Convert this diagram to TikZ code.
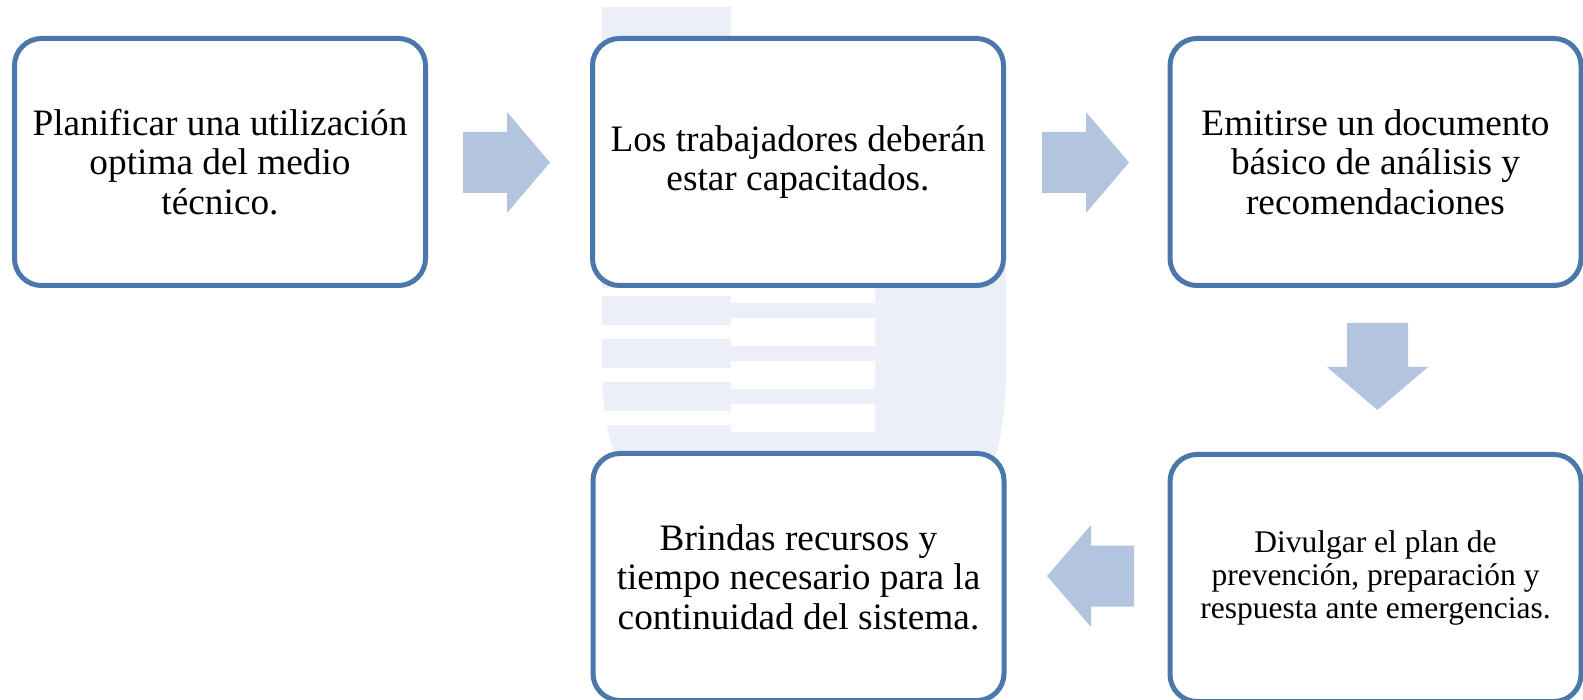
\documentclass[tikz,border=0pt]{standalone}
\usepackage{fontspec}
\setmainfont{Liberation Serif}
\definecolor{boxblue}{RGB}{74,119,172}
\definecolor{arrowblue}{RGB}{179,196,223}
\definecolor{wmblue}{RGB}{236,239,247}
\begin{document}
\begin{tikzpicture}[x=1pt,y=-1pt,
  box/.style={draw=boxblue, line width=5pt, rounded corners=27pt, fill=white,
    minimum width=411pt, minimum height=247pt, inner sep=0pt, align=center,
    font=\fontsize{37.3}{39.5}\selectfont},
  smallbox/.style={box, font=\fontsize{31.5}{33}\selectfont},
  flowarrow/.style={fill=arrowblue, draw=none},
  wmark/.style={fill=wmblue, draw=none},
  wgap/.style={fill=white, draw=none}]
\useasboundingbox (0,0) rectangle (1583,700);
% watermark
\fill[wmark] (602,7) -- (731,7) -- (731,120) -- (1006,120) -- (1006,370)
  .. controls (1006,415) and (1000,445) .. (990,475) -- (622,475)
  .. controls (610,445) and (602,415) .. (602,370) -- cycle;
\foreach \a/\b in {288/296, 325/339, 367.7/382.3, 410.7/425.3}
  \fill[wgap] (598,\a) rectangle (731,\b);
\foreach \a/\b in {110/302.7, 317.7/346, 360.7/389.3, 404/432.3}
  \fill[wgap] (731,\a) rectangle (875,\b);
% boxes
\node[box] (b1) at (220,162) {Planificar una utilización\\optima del medio\\técnico.};
\node[box] (b2) at (798,162) {Los trabajadores deberán\\estar capacitados.};
\node[box] (b3) at (1375.5,162) {Emitirse un documento\\básico de análisis y\\recomendaciones};
\node[smallbox] (b5) at (1375.5,578) {Divulgar el plan de\\prevención, preparación y\\respuesta ante emergencias.};
\node[box] (b4) at (798.5,577) {Brindas recursos y\\tiempo necesario para la\\continuidad del sistema.};
% block arrows
\fill[flowarrow] (463,132) -- (507,132) -- (507,112) -- (550,162.5) -- (507,213) -- (507,193) -- (463,193) -- cycle;
\fill[flowarrow] (1042,132) -- (1086,132) -- (1086,112) -- (1129,162.5) -- (1086,213) -- (1086,193) -- (1042,193) -- cycle;
\fill[flowarrow] (1347,323) -- (1408,323) -- (1408,367) -- (1428,367) -- (1377.5,410) -- (1327,367) -- (1347,367) -- cycle;
\fill[flowarrow] (1134,545.5) -- (1091,545.5) -- (1091,525) -- (1047,576) -- (1091,627) -- (1091,606.5) -- (1134,606.5) -- cycle;
\end{tikzpicture}
\end{document}
